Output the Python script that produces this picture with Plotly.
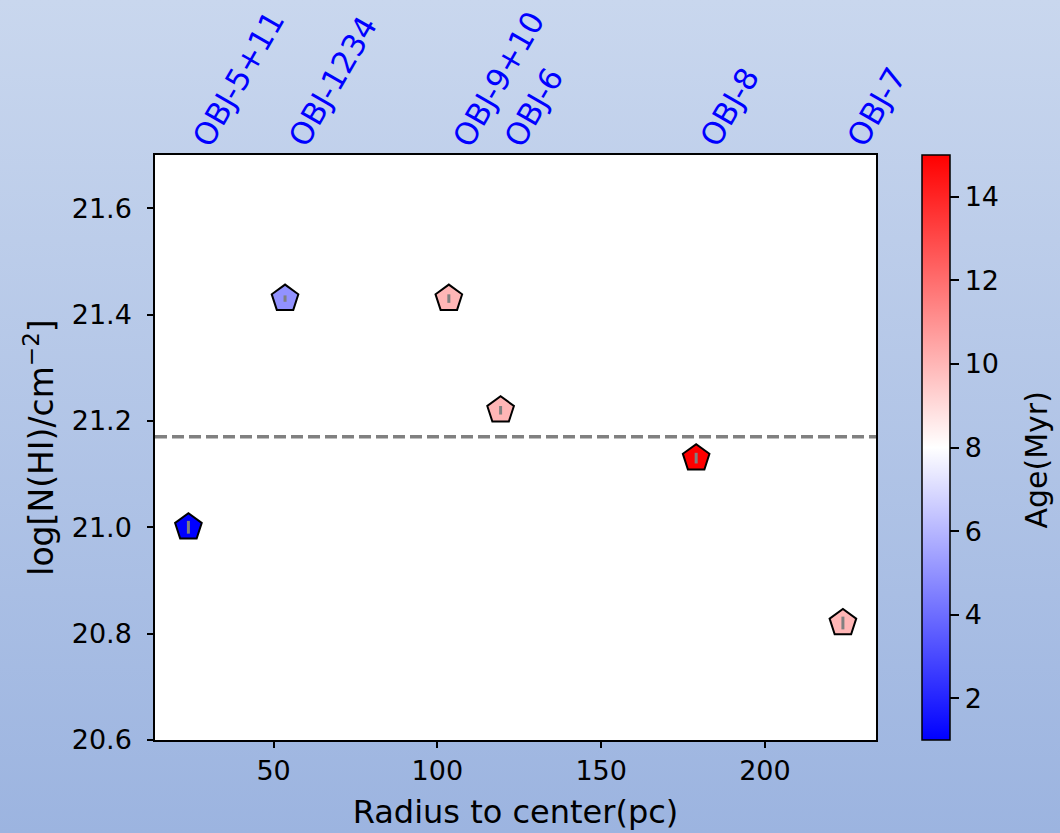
import base64
import plotly.graph_objects as go

# Star-forming regions: distance from centre, HI column density and age
names = ["OBJ-5+11", "OBJ-1234", "OBJ-9+10", "OBJ-6", "OBJ-8", "OBJ-7"]
radius_pc = [24.0, 53.5, 103.5, 119.3, 179.0, 223.8]
log_nhi = [21.00, 21.43, 21.43, 21.22, 21.13, 20.82]
log_nhi_err = [0.012, 0.006, 0.008, 0.008, 0.010, 0.012]
age_myr = [1, 5, 10, 10, 15, 10]
mean_log_nhi = 21.17

x_ticks = [50, 100, 150, 200]
y_ticks = [20.6, 20.8, 21.0, 21.2, 21.4, 21.6]
age_ticks = [2, 4, 6, 8, 10, 12, 14]

W, H = 1060, 833
ML, MR, MT, MB = 155, 184, 155, 93
PW, PH = W - ML - MR, H - MT - MB

FONT = "DejaVu Sans"
bwr = [[0.0, "rgb(0,0,255)"], [0.5, "rgb(255,255,255)"], [1.0, "rgb(255,0,0)"]]

fig = go.Figure()

# coloured pentagons
fig.add_trace(go.Scatter(
    x=radius_pc, y=log_nhi, mode="markers",
    marker=dict(
        symbol="pentagon", size=28, color=age_myr,
        colorscale=bwr, cmin=1, cmax=15,
        line=dict(color="black", width=2),
        colorbar=dict(
            x=(922 - ML) / PW, xanchor="left", xpad=0,
            y=0.5, yanchor="middle", len=1, lenmode="fraction",
            ypad=0, thickness=28, thicknessmode="pixels",
            outlinecolor="black", outlinewidth=1.5,
            tickvals=age_ticks, ticks="outside", ticklen=9,
            tickwidth=1.5, tickcolor="black",
            tickfont=dict(family=FONT, size=27, color="black"),
        ),
    ),
    showlegend=False, hoverinfo="skip",
))

# error bars drawn over the markers
fig.add_trace(go.Scatter(
    x=radius_pc, y=log_nhi, mode="markers",
    marker=dict(size=1, opacity=0),
    error_y=dict(type="data", array=log_nhi_err, visible=True,
                 color="gray", thickness=3, width=0),
    showlegend=False, hoverinfo="skip",
))

# white plotting area above the gradient background
fig.add_shape(type="rect", xref="paper", yref="paper", x0=0, x1=1, y0=0, y1=1,
              fillcolor="white", line=dict(width=0), layer="below")

# mean column density reference line
fig.add_shape(type="line", xref="paper", x0=0, x1=1, yref="y",
              y0=mean_log_nhi, y1=mean_log_nhi,
              line=dict(color="gray", width=3.5, dash="12px,5px"))

# region names along the top edge
for nm, rx in zip(names, radius_pc):
    fig.add_annotation(
        x=rx, y=1, xref="x", yref="paper", text=nm, showarrow=False,
        textangle=-60, xanchor="left", yanchor="bottom",
        xshift=-5, yshift=1, borderpad=0,
        font=dict(family=FONT, size=31, color="blue"),
    )

# colour bar label
fig.add_annotation(
    x=(1036 - ML) / PW, y=0.5 - 13 / PH, xref="paper", yref="paper",
    text="Age(Myr)", showarrow=False, textangle=-90,
    xanchor="center", yanchor="middle",
    font=dict(family=FONT, size=30, color="black"),
)

# vertical background gradient for the figure
svg = (
    f'<svg xmlns="http://www.w3.org/2000/svg" width="{W}" height="{H}" '
    f'viewBox="0 0 {W} {H}" preserveAspectRatio="none">'
    '<defs><linearGradient id="g" x1="0" y1="0" x2="0" y2="1">'
    '<stop offset="0" stop-color="#c9d7ee"/>'
    '<stop offset="1" stop-color="#9cb4e0"/>'
    '</linearGradient></defs>'
    f'<rect x="0" y="0" width="{W}" height="{H}" fill="url(#g)"/></svg>'
)
bg_src = "data:image/svg+xml;base64," + base64.b64encode(svg.encode()).decode()
fig.add_layout_image(
    source=bg_src, xref="paper", yref="paper",
    x=-ML / PW, y=1 + MT / PH, sizex=W / PW, sizey=H / PH,
    xanchor="left", yanchor="top", sizing="stretch", layer="below",
)

axis_common = dict(
    showgrid=False, zeroline=False, showline=True, linecolor="black",
    linewidth=1.5, mirror=True, ticks="outside", ticklen=6, tickwidth=1.5,
    tickcolor="black", tickfont=dict(family=FONT, size=27, color="black"),
    automargin=False,
)

fig.update_xaxes(
    range=[13.8, 233.9], tickvals=x_ticks,
    title=dict(text="Radius to center(pc)", standoff=15,
               font=dict(family=FONT, size=32, color="black")),
    **axis_common,
)
fig.update_yaxes(
    range=[20.6, 21.7], tickvals=y_ticks, tickformat=".1f",
    ticklabelstandoff=10,
    title=dict(text="log[N(HI)/cm<sup>\u22122</sup>]", standoff=8,
               font=dict(family=FONT, size=33, color="black")),
    **axis_common,
)

fig.update_layout(
    width=W, height=H,
    margin=dict(l=ML, r=MR, t=MT, b=MB, pad=0, autoexpand=False),
    paper_bgcolor="#b3c6e8", plot_bgcolor="white",
    font=dict(family=FONT, color="black"),
)

fig.write_html("out.html")
